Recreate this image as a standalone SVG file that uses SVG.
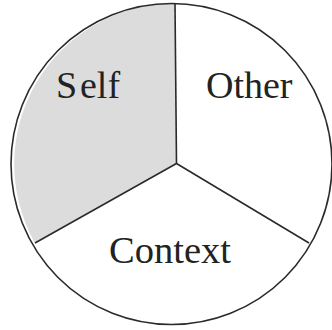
<svg xmlns="http://www.w3.org/2000/svg" width="332" height="330" viewBox="0 0 332 330">
<style>
.edge{fill:none;stroke:#2a2a2a;stroke-width:1.6;stroke-linejoin:round}
.lbl{font-family:"Liberation Serif","Times New Roman",serif;font-size:38px;fill:#222}
</style>
<rect width="332" height="330" fill="#ffffff"/>
<g id="self">
<path d="M176.5,163.5 L175,3.5 A160.5,160.5 0 0 0 35,243 Z" fill="#dcdcdc"/>
<text class="lbl" x="56" y="98">S<tspan x="80">elf</tspan></text>
</g>
<g id="other">
<text class="lbl" x="206" y="98">Other</text>
</g>
<g id="context">
<text class="lbl" x="109" y="263" style="font-size:38.5px">Context</text>
</g>
<g id="connectors">
<circle class="edge" cx="171.5" cy="164" r="160.5"/>
<polyline class="edge" points="175,3.5 176.5,163.5"/>
<polyline class="edge" points="35,243 176.5,163.5 309,243"/>
</g>
</svg>
